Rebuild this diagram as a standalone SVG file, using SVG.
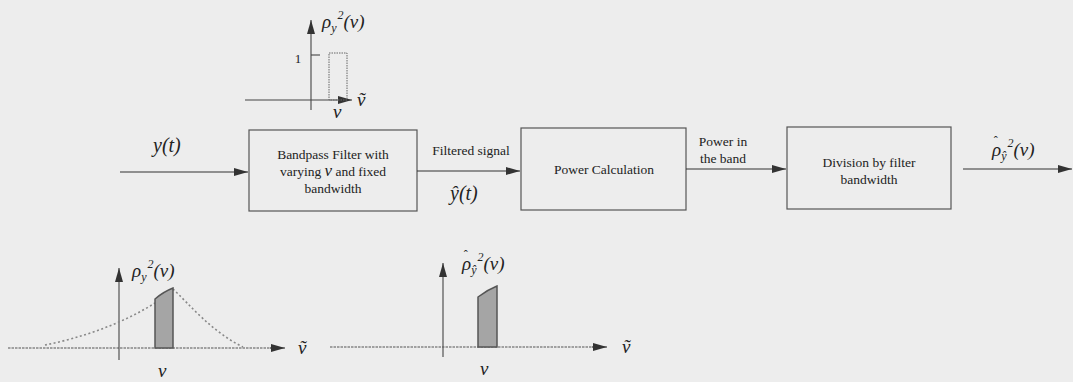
<svg xmlns="http://www.w3.org/2000/svg" width="1073" height="382" viewBox="0 0 1073 382" font-family="Liberation Serif, Tinos, Times New Roman, serif">
<style>
.bg{fill:#ededed}
.box{fill:#ededed;stroke:#555;stroke-width:1.2}
.ln{stroke:#333;stroke-width:1.2;fill:none}
.ax{stroke:#444;stroke-width:1.1;fill:none}
.axd{stroke:#555;stroke-width:1.1;stroke-dasharray:2.5 1;fill:none}
.dot{stroke:#888;stroke-width:1.6;stroke-dasharray:2 2.5;fill:none}
.sh{fill:#a5a5a5;stroke:#555;stroke-width:1.5}
.t{font-size:13.5px;text-anchor:middle;fill:#222}
.m{font-style:italic;font-size:19px;fill:#222}
.s{font-size:12px}
.acc{font-size:12px;font-style:normal}
</style>
<defs>
<marker id="ah" viewBox="0 0 14 8" refX="14" refY="4" markerWidth="14" markerHeight="8" markerUnits="userSpaceOnUse" orient="auto">
<path d="M0,0 L14,4 L0,8 z" fill="#333"/>
</marker>
</defs>
<rect class="bg" x="0" y="0" width="1073" height="382"/>

<g id="plot-top">
<line class="ax" x1="311" y1="110" x2="311" y2="20" marker-end="url(#ah)"/>
<line class="ax" x1="245" y1="100" x2="352" y2="100" marker-end="url(#ah)"/>
<line class="ax" x1="311" y1="55" x2="320" y2="55"/>
<rect x="329" y="53" width="18" height="47" fill="none" stroke="#666" stroke-width="1" stroke-dasharray="1.5 1"/>
<text class="t" x="298" y="63" style="font-size:13px">1</text>
<text class="m" x="322" y="28">ρ<tspan class="s" dy="4">y</tspan><tspan class="s" dx="1" dy="-13">2</tspan><tspan dy="9">(ν)</tspan></text>
<text class="m" x="333" y="118">ν</text>
<text class="m" x="357" y="106">ṽ</text>
</g>

<g id="input-label">
<text class="m" x="153" y="152" style="font-size:20px">y(t)</text>
</g>

<g id="box-bandpass">
<rect class="box" x="249" y="130" width="168" height="81"/>
<text class="t" x="333" y="159">Bandpass Filter with</text>
<text class="t" x="333" y="176">varying <tspan style="font-style:italic;font-size:17px">ν</tspan>  and fixed</text>
<text class="t" x="333" y="193">bandwidth</text>
</g>

<g id="filtered-label">
<text class="t" x="471" y="155">Filtered signal</text>
<text class="m" x="450" y="200" style="font-size:20px">ŷ(t)</text>
</g>

<g id="box-power">
<rect class="box" x="521" y="128" width="165" height="82"/>
<text class="t" x="604" y="174">Power Calculation</text>
</g>

<g id="band-label">
<text class="t" x="723" y="146">Power in</text>
<text class="t" x="723" y="163">the band</text>
</g>

<g id="box-division">
<rect class="box" x="787" y="127" width="164" height="82"/>
<text class="t" x="869" y="167">Division by filter</text>
<text class="t" x="869" y="184">bandwidth</text>
</g>

<g id="output-label">
<text class="m" x="992" y="156">ρ<tspan class="acc" dx="-7.5" dy="-11">ˆ</tspan><tspan class="s" dx="3.5" dy="15">ŷ</tspan><tspan class="s" dx="1" dy="-13">2</tspan><tspan dy="9">(ν)</tspan></text>
</g>

<g id="connectors">
<line class="ln" x1="120" y1="172" x2="248" y2="172" marker-end="url(#ah)"/>
<line class="ln" x1="417" y1="171" x2="520" y2="171" marker-end="url(#ah)"/>
<line class="ln" x1="686" y1="169" x2="786" y2="169" marker-end="url(#ah)"/>
<line class="ln" x1="963" y1="169" x2="1072" y2="169" marker-end="url(#ah)"/>
</g>

<g id="plot-bottom-left">
<line class="ax" x1="119" y1="360" x2="119" y2="268" marker-end="url(#ah)"/>
<line class="axd" x1="8" y1="348" x2="271" y2="348"/>
<line class="ax" x1="270" y1="348" x2="285" y2="348" marker-end="url(#ah)"/>
<path class="dot" d="M45,345 C80,338 120,325 155,303"/>
<path class="dot" d="M173,289 C190,305 212,332 243,347"/>
<path class="sh" d="M155,348 L155,299 Q163,292 173,288 L173,348 z"/>
<text class="m" x="132" y="277">ρ<tspan class="s" dy="4">y</tspan><tspan class="s" dx="1" dy="-13">2</tspan><tspan dy="9">(ν)</tspan></text>
<text class="m" x="158" y="377">ν</text>
<text class="m" x="298" y="354">ṽ</text>
</g>

<g id="plot-bottom-right">
<line class="ax" x1="443" y1="357" x2="443" y2="263" marker-end="url(#ah)"/>
<line class="axd" x1="330" y1="347" x2="594" y2="347"/>
<line class="ax" x1="592" y1="347" x2="607" y2="347" marker-end="url(#ah)"/>
<path class="sh" d="M478,347 L478,297 Q487,290 497,286 L497,347 z"/>
<text class="m" x="462" y="270">ρ<tspan class="acc" dx="-7.5" dy="-11">ˆ</tspan><tspan class="s" dx="3.5" dy="15">ŷ</tspan><tspan class="s" dx="1" dy="-13">2</tspan><tspan dy="9">(ν)</tspan></text>
<text class="m" x="480" y="375">ν</text>
<text class="m" x="622" y="353">ṽ</text>
</g>
</svg>
